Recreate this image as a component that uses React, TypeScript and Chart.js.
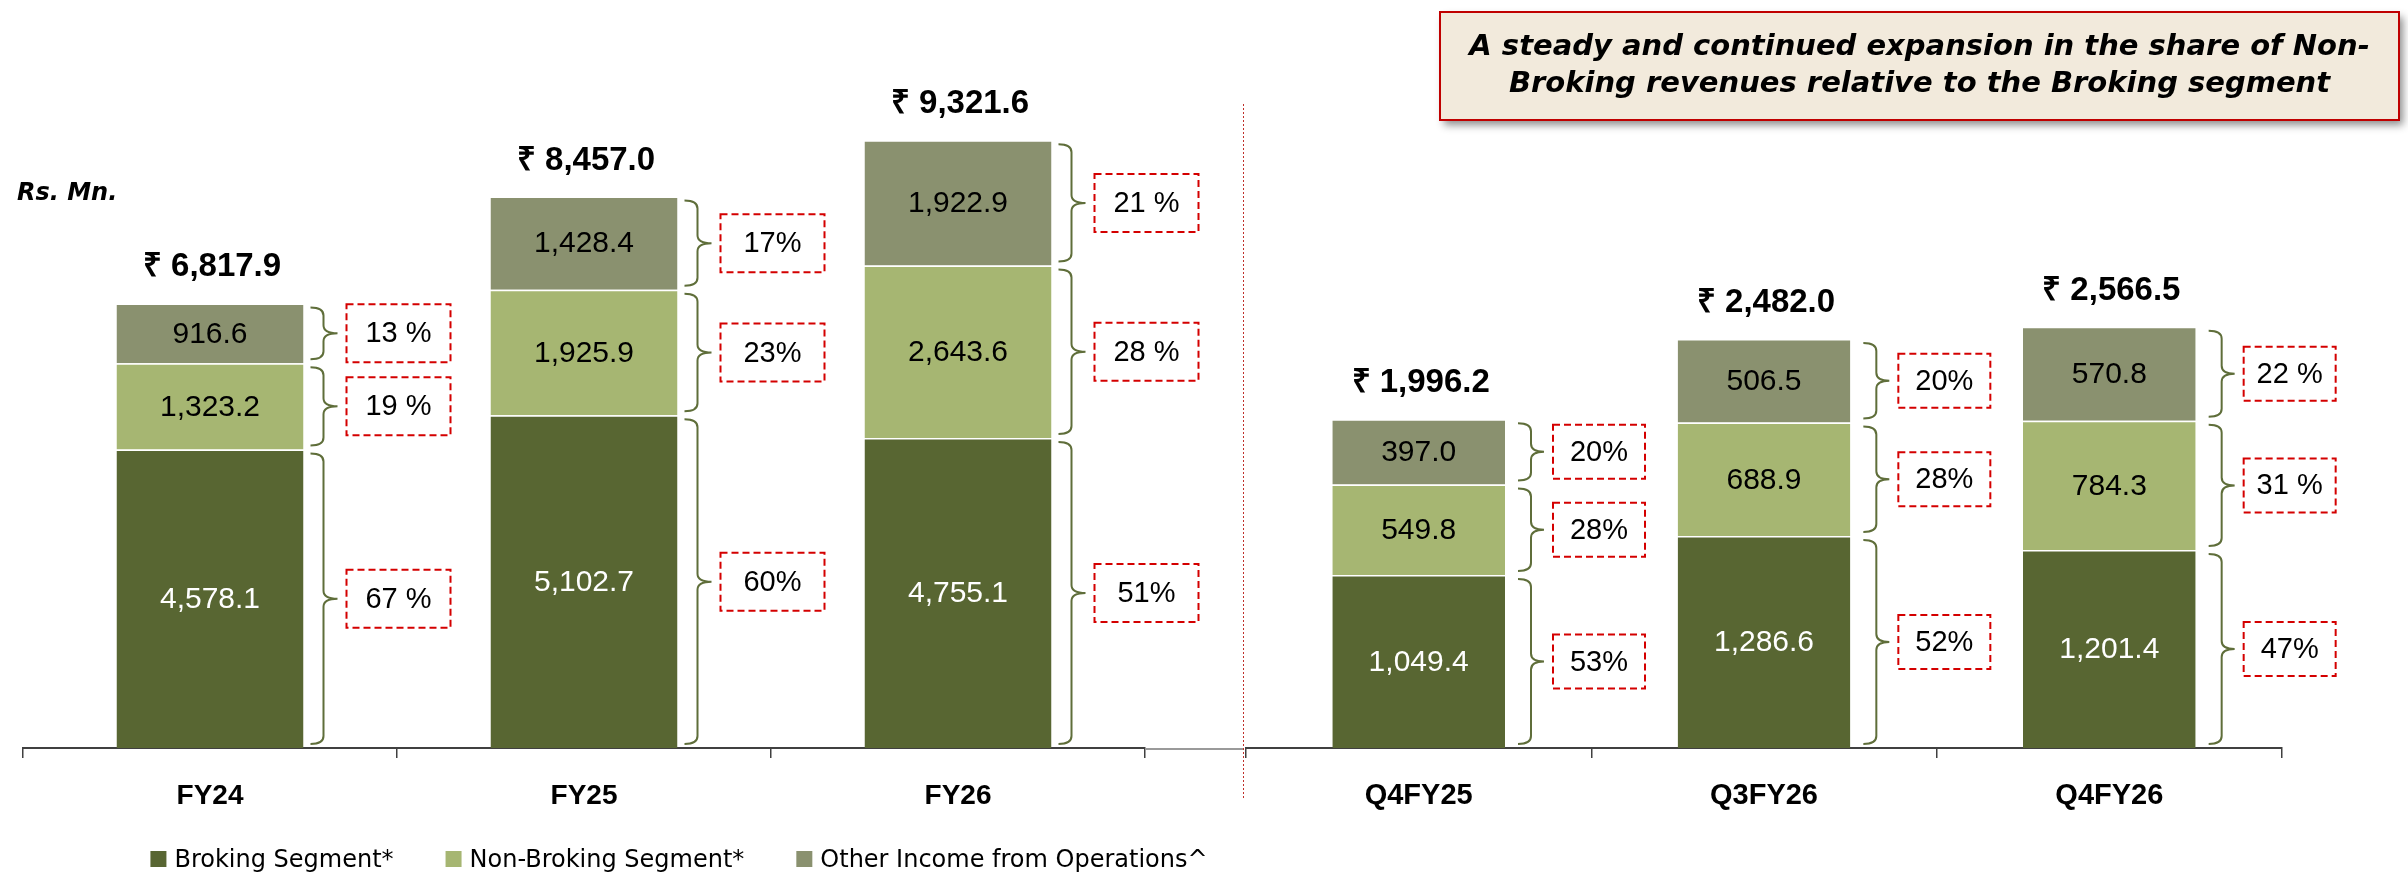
import React, { useEffect, useRef } from "react";
import { Chart, registerables } from "chart.js";

Chart.register(...registerables);

// ---------- data ----------
const fyCategories = ["FY24", "FY25", "FY26"];
const fyBroking = [4578.1, 5102.7, 4755.1];
const fyNonBroking = [1323.2, 1925.9, 2643.6];
const fyOther = [916.6, 1428.4, 1922.9];
const fyTotals = [6817.9, 8457.0, 9321.6];
const fyBrokingPct = ["67 %", "60%", "51%"];
const fyNonBrokingPct = ["19 %", "23%", "28 %"];
const fyOtherPct = ["13 %", "17%", "21 %"];

const qCategories = ["Q4FY25", "Q3FY26", "Q4FY26"];
const qBroking = [1049.4, 1286.6, 1201.4];
const qNonBroking = [549.8, 688.9, 784.3];
const qOther = [397.0, 506.5, 570.8];
const qTotals = [1996.2, 2482.0, 2566.5];
const qBrokingPct = ["53%", "52%", "47%"];
const qNonBrokingPct = ["28%", "28%", "31 %"];
const qOtherPct = ["20%", "20%", "22 %"];

const seriesNames = ["Broking Segment*", "Non-Broking Segment*", "Other Income from Operations^"];
const seriesColors = ["#586632", "#a6b672", "#8a916f"];
const valueColors = ["#ffffff", "#000000", "#000000"];

const unitLabel = "Rs. Mn.";
const calloutLines = [
  "A steady and continued expansion in the share of Non-",
  "Broking revenues relative to the Broking segment",
];
const fyAxisMax = 10000;
const qAxisMax = 4000;

// ---------- helpers ----------
const SANS = '"Liberation Sans", Arial, sans-serif';
const DEJA = '"DejaVu Sans", sans-serif';

const fmt = (v: number) =>
  v.toLocaleString("en-US", { minimumFractionDigits: 1, maximumFractionDigits: 1 });

function drawBrace(ctx: CanvasRenderingContext2D, x0: number, x1: number, x2: number, top: number, bottom: number) {
  const mid = (top + bottom) / 2;
  const r = Math.min(8, (bottom - top) / 5);
  ctx.beginPath();
  ctx.moveTo(x0, top);
  ctx.quadraticCurveTo(x1, top, x1, top + r);
  ctx.lineTo(x1, mid - r);
  ctx.quadraticCurveTo(x1, mid, x2, mid);
  ctx.moveTo(x2, mid);
  ctx.quadraticCurveTo(x1, mid, x1, mid + r);
  ctx.lineTo(x1, bottom - r);
  ctx.quadraticCurveTo(x1, bottom, x0, bottom);
  ctx.stroke();
}

type Params = {
  id: string;
  categories: string[];
  series: number[][];
  pcts: string[][];
  totals: number[];
  max: number;
  padLeft: number;
  padRight: number;
  padTop: number;
  tickFont: number;
  brace: number[];
  box: number[]; // offset, width, height
  extra: (chart: any) => void;
};

function makePlugin(p: Params) {
  return {
    id: p.id,
    afterDatasetsDraw(chart: any) {
      const ctx: CanvasRenderingContext2D = chart.ctx;
      ctx.save();
      for (let si = 0; si < 3; si++) {
        const meta = chart.getDatasetMeta(si);
        meta.data.forEach((el: any, ci: number) => {
          const { x, y, base, width } = el.getProps(["x", "y", "base", "width"], true);
          const mid = (y + base) / 2;
          // value inside segment
          ctx.font = `30px ${SANS}`;
          ctx.fillStyle = valueColors[si];
          ctx.textAlign = "center";
          ctx.textBaseline = "middle";
          ctx.fillText(fmt(p.series[si][ci]), x, mid + 1);
          // brace
          const right = x + width / 2;
          ctx.strokeStyle = "#5f6e3a";
          ctx.lineWidth = 2;
          ctx.setLineDash([]);
          drawBrace(ctx, right + p.brace[0], right + p.brace[1], right + p.brace[2], y + 4, base - 4);
          // dashed percentage box
          const bx = right + p.box[0];
          const bw = p.box[1];
          const bh = p.box[2];
          ctx.strokeStyle = "#d40000";
          ctx.lineWidth = 2;
          ctx.setLineDash([7, 4]);
          ctx.strokeRect(bx, mid - bh / 2, bw, bh);
          ctx.setLineDash([]);
          ctx.fillStyle = "#000";
          ctx.font = `29px ${SANS}`;
          ctx.fillText(p.pcts[si][ci], bx + bw / 2, mid + 1);
          // total above the stack
          if (si === 2) {
            ctx.font = `bold 33px ${SANS}`;
            ctx.textBaseline = "alphabetic";
            ctx.fillText("₹ " + fmt(p.totals[ci]), x + 2, y - 27);
          }
        });
      }
      ctx.restore();
    },
    afterDraw(chart: any) {
      chart.ctx.save();
      p.extra(chart);
      chart.ctx.restore();
    },
  };
}

function buildConfig(p: Params): any {
  return {
    type: "bar",
    data: {
      labels: p.categories,
      datasets: p.series.map((data, i) => ({
        label: seriesNames[i],
        data,
        backgroundColor: seriesColors[i],
        borderColor: "rgba(255,255,255,0.55)",
        borderWidth: { top: 1.5, bottom: 0, left: 0, right: 0 },
        borderSkipped: false,
        categoryPercentage: 0.5,
        barPercentage: 1,
      })),
    },
    options: {
      responsive: false,
      maintainAspectRatio: false,
      animation: false,
      devicePixelRatio: 1,
      layout: { padding: { left: p.padLeft, right: p.padRight, top: p.padTop, bottom: 44 } },
      plugins: { legend: { display: false }, tooltip: { enabled: false } },
      scales: {
        x: {
          stacked: true,
          grid: {
            display: true,
            drawOnChartArea: false,
            drawTicks: true,
            tickLength: 10,
            color: "#404040",
            lineWidth: 1.5,
            offset: true,
          },
          border: { display: true, color: "#404040", width: 2 },
          ticks: { color: "#000", font: { family: SANS, size: p.tickFont, weight: "bold" }, padding: 21 },
          afterFit: (s: any) => {
            s.height = 80;
          },
        },
        y: { stacked: true, display: false, min: 0, max: p.max },
      },
    },
    plugins: [makePlugin(p)],
  };
}

function drawLegendAndUnit(chart: any) {
  const ctx: CanvasRenderingContext2D = chart.ctx;
  // unit label
  ctx.font = `italic bold 24px ${DEJA}`;
  ctx.fillStyle = "#000";
  ctx.textAlign = "left";
  ctx.textBaseline = "alphabetic";
  ctx.fillText(unitLabel, 17, 200);
  // light extension of the baseline towards the separator
  const a = chart.chartArea;
  ctx.strokeStyle = "#9a9a9a";
  ctx.lineWidth = 2;
  ctx.beginPath();
  ctx.moveTo(a.right, a.bottom + 1);
  ctx.lineTo(1244, a.bottom + 1);
  ctx.stroke();
  // legend
  ctx.font = `24px ${DEJA}`;
  const box = 16;
  const gap = 8;
  const itemGap = 52;
  const widths = seriesNames.map((n) => ctx.measureText(n).width);
  const total = widths.reduce((s, w) => s + box + gap + w, 0) + itemGap * (seriesNames.length - 1);
  let x = 679 - total / 2;
  const baseY = 867;
  seriesNames.forEach((n, i) => {
    ctx.fillStyle = seriesColors[i];
    ctx.fillRect(x, baseY - 16, box, box);
    ctx.fillStyle = "#000";
    ctx.fillText(n, x + box + gap, baseY);
    x += box + gap + widths[i] + itemGap;
  });
}

function drawSeparatorAndCallout(chart: any) {
  const ctx: CanvasRenderingContext2D = chart.ctx;
  // dotted separator
  ctx.strokeStyle = "#c0302a";
  ctx.lineWidth = 1;
  ctx.setLineDash([2, 2]);
  ctx.beginPath();
  ctx.moveTo(93.5, 104);
  ctx.lineTo(93.5, 800);
  ctx.stroke();
  ctx.setLineDash([]);
  // callout box
  const bx = 290;
  const by = 12;
  const bw = 959;
  const bh = 108;
  ctx.save();
  ctx.shadowColor = "rgba(0,0,0,0.45)";
  ctx.shadowBlur = 8;
  ctx.shadowOffsetX = 4;
  ctx.shadowOffsetY = 5;
  ctx.fillStyle = "#f2eadc";
  ctx.fillRect(bx, by, bw, bh);
  ctx.restore();
  ctx.strokeStyle = "#c00000";
  ctx.lineWidth = 2;
  ctx.strokeRect(bx, by, bw, bh);
  ctx.fillStyle = "#000";
  ctx.font = `italic bold 29px ${DEJA}`;
  ctx.textAlign = "center";
  ctx.textBaseline = "alphabetic";
  ctx.fillText(calloutLines[0], bx + bw / 2, 55);
  ctx.fillText(calloutLines[1], bx + bw / 2, 92);
}

export default function App() {
  const leftRef = useRef<HTMLCanvasElement>(null);
  const rightRef = useRef<HTMLCanvasElement>(null);

  useEffect(() => {
    const left = new Chart(
      leftRef.current as HTMLCanvasElement,
      buildConfig({
        id: "fyDecor",
        categories: fyCategories,
        series: [fyBroking, fyNonBroking, fyOther],
        pcts: [fyBrokingPct, fyNonBrokingPct, fyOtherPct],
        totals: fyTotals,
        max: fyAxisMax,
        padLeft: 23,
        padRight: 100,
        padTop: 96,
        tickFont: 28,
        brace: [7, 20, 34],
        box: [43, 104, 58],
        extra: drawLegendAndUnit,
      })
    );
    const right = new Chart(
      rightRef.current as HTMLCanvasElement,
      buildConfig({
        id: "qDecor",
        categories: qCategories,
        series: [qBroking, qNonBroking, qOther],
        pcts: [qBrokingPct, qNonBrokingPct, qOtherPct],
        totals: qTotals,
        max: qAxisMax,
        padLeft: 96,
        padRight: 126,
        padTop: 89,
        tickFont: 29,
        brace: [13, 26, 39],
        box: [48, 92, 54],
        extra: drawSeparatorAndCallout,
      })
    );
    return () => {
      left.destroy();
      right.destroy();
    };
  }, []);

  return (
    <div
      style={{
        position: "absolute",
        left: 0,
        top: 0,
        width: 2408,
        height: 872,
        background: "#ffffff",
        overflow: "hidden",
      }}
    >
      <canvas
        ref={leftRef}
        width={1245}
        height={872}
        style={{ position: "absolute", left: 0, top: 0, width: 1245, height: 872 }}
      />
      <canvas
        ref={rightRef}
        width={1258}
        height={872}
        style={{ position: "absolute", left: 1150, top: 0, width: 1258, height: 872 }}
      />
    </div>
  );
}
